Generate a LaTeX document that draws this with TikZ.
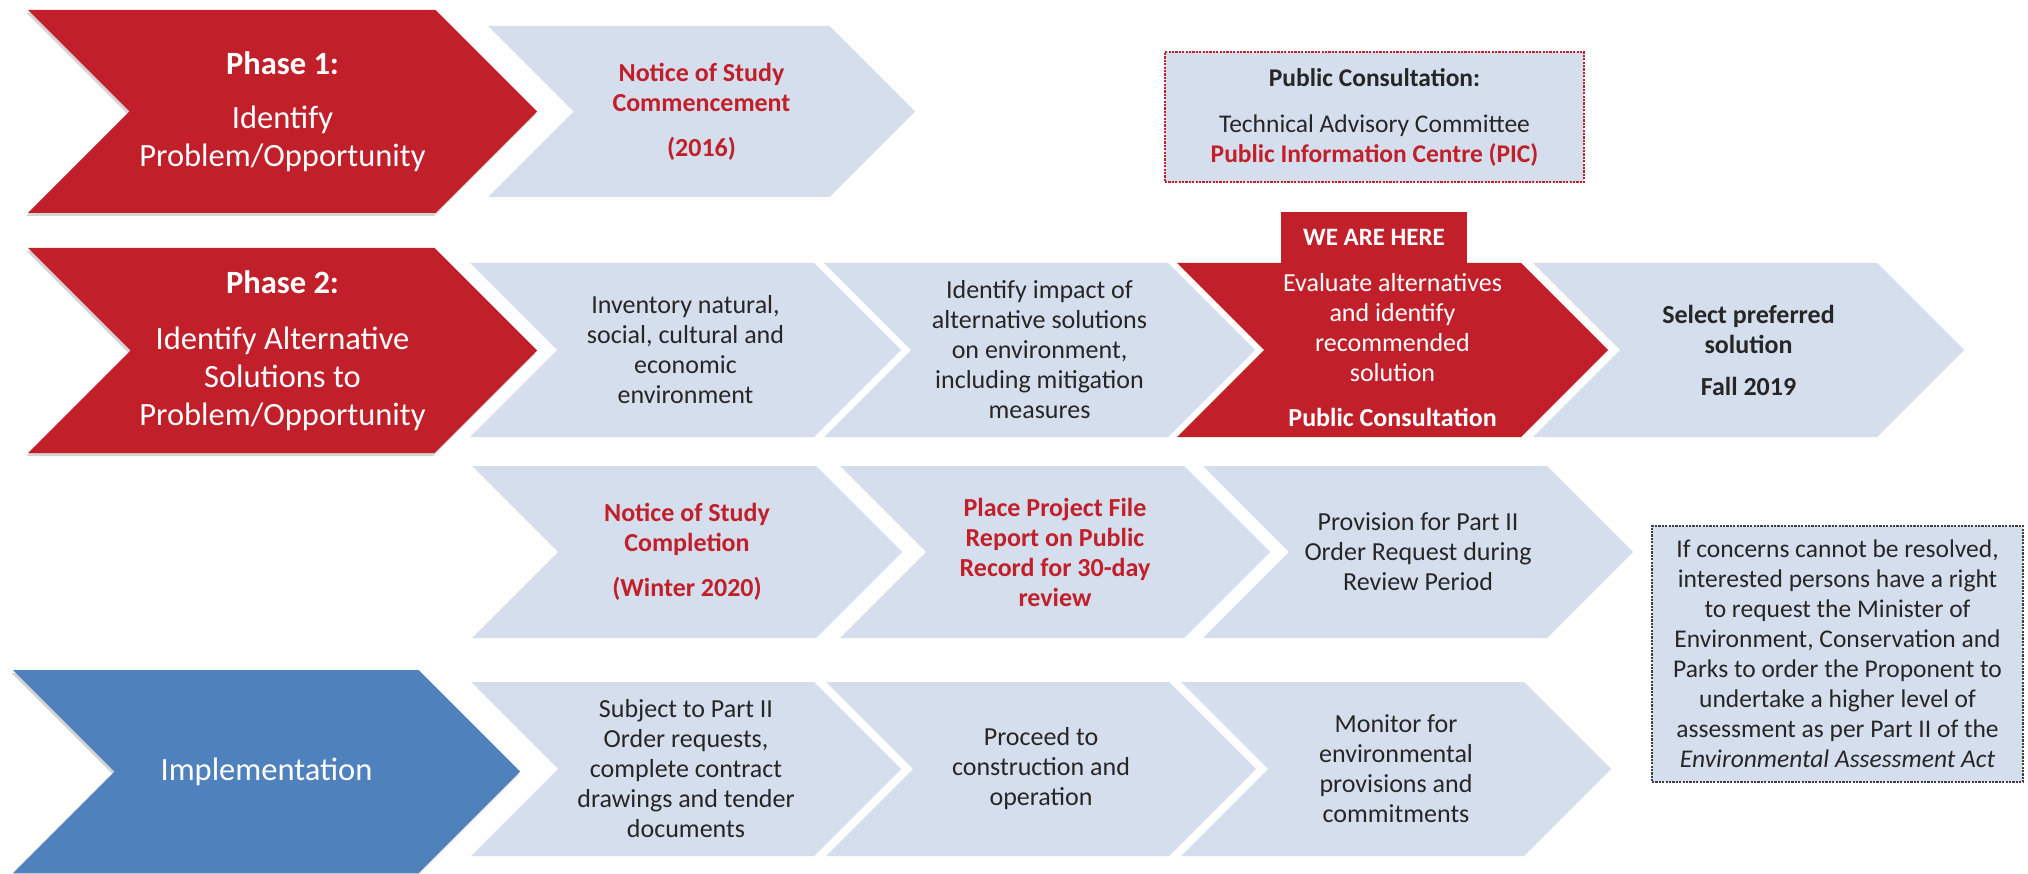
\documentclass[tikz,border=0pt]{standalone}
\usepackage{fontspec}
\setmainfont{Carlito}
\definecolor{cred}{HTML}{C11F2A}
\definecolor{clight}{HTML}{D5DEEC}
\definecolor{cblue}{HTML}{4F81BD}
\definecolor{ctext}{HTML}{262626}
\definecolor{cborder}{HTML}{404040}
\definecolor{cshadow}{HTML}{D4D4D4}
% chevron: #1 name, #2 left x, #3 top y, #4 bottom y, #5 width (left to tip), #6 fill options
\newcommand{\chev}[6]{%
  \pgfmathsetmacro{\chM}{(#3+#4)/2}%
  \pgfmathsetmacro{\chD}{(#4-#3)/2}%
  \pgfmathsetmacro{\chR}{#2+#5}%
  \pgfmathsetmacro{\chS}{#2+#5-\chD}%
  \pgfmathsetmacro{\chN}{#2+\chD}%
  \pgfmathsetmacro{\chC}{#2+#5/2}%
  \fill[#6] (#2,#3) -- (\chS,#3) -- (\chR,\chM) -- (\chS,#4) -- (#2,#4) -- (\chN,\chM) -- cycle;
  \coordinate (#1) at (\chC,\chM);
}
\begin{document}
\begin{tikzpicture}[x=1pt,y=-1pt,
  txt/.style={align=center, text=ctext, font=\fontsize{26}{30}\selectfont, inner sep=0pt},
  rtxt/.style={txt, text=cred, font=\fontsize{26}{30}\selectfont\bfseries},
  wtxt/.style={txt, text=white},
  ptxt/.style={align=center, text=white, font=\fontsize{32.5}{38}\selectfont, inner sep=0pt},
  shadowfill/.style={fill=cshadow, xshift=-1.5pt, yshift=-3pt},
  dbox/.style={fill=clight, dash pattern=on 2.2pt off 1.2pt, line width=1.6pt, inner sep=0pt, align=center, text=ctext, font=\fontsize{25.5}{30}\selectfont},
]
\useasboundingbox (0,0) rectangle (2028,874);
\fill[white] (0,0) rectangle (2028,874);

% ---------- Row 1 ----------
\chev{s1}{28}{10}{213}{509}{shadowfill}
\chev{p1}{28}{10}{213}{509}{fill=cred}
\chev{c11}{488}{26}{197}{427}{fill=clight}
\node[ptxt] (tp1) at (p1) {\textbf{Phase 1:}\\[16pt]Identify\\Problem/Opportunity};
\node[rtxt] (t11) at (c11) {Notice of Study\\Commencement\\[15pt](2016)};

\node[dbox, draw=cred, minimum width=419, minimum height=130] (pc) at (1374.5,117)
  {\textbf{Public Consultation:}\\[16pt]Technical Advisory Committee\\\textcolor{cred}{\textbf{Public Information Centre (PIC)}}};

% ---------- Row 2 ----------
\chev{s2}{28}{248}{453}{509}{shadowfill}
\chev{p2}{28}{248}{453}{509}{fill=cred}
\chev{c21}{470}{263}{437}{431}{fill=clight}
\chev{c22}{824}{263}{437}{431}{fill=clight}
\chev{c23}{1177}{263}{437}{431}{fill=cred}
\chev{c24}{1533}{263}{437}{431}{fill=clight}
\node[ptxt] (tp2) at (p2) {\textbf{Phase 2:}\\[18pt]Identify Alternative\\Solutions to\\Problem/Opportunity};
\node[txt] (t21) at (c21) {Inventory natural,\\social, cultural and\\economic\\environment};
\node[txt] (t22) at (c22) {Identify impact of\\alternative solutions\\on environment,\\including mitigation\\measures};
\node[wtxt] (t23) at (c23) {Evaluate alternatives\\and identify\\recommended\\solution\\[15pt]\textbf{Public Consultation}};
\node[txt] (t24) at (c24) {\textbf{Select preferred}\\\textbf{solution}\\[12pt]\textbf{Fall 2019}};

\node[fill=cred, text=white, font=\fontsize{25}{30}\selectfont\bfseries, minimum width=186, minimum height=51, inner sep=0pt] (here) at (1374,237.5) {WE ARE HERE};

% ---------- Row 3 ----------
\chev{c31}{472}{466}{638}{430}{fill=clight}
\chev{c32}{840}{466}{638}{430}{fill=clight}
\chev{c33}{1203}{466}{638}{430}{fill=clight}
\node[rtxt] (t31) at (c31) {Notice of Study\\Completion\\[15pt](Winter 2020)};
\node[rtxt] (t32) at (c32) {Place Project File\\Report on Public\\Record for 30-day\\review};
\node[txt] (t33) at (c33) {Provision for Part II\\Order Request during\\Review Period};

% ---------- Row 4 ----------
\chev{s4}{13}{670}{873}{507}{shadowfill}
\chev{p4}{13}{670}{873}{507}{fill=cblue}
\chev{c41}{471}{682}{856}{430}{fill=clight}
\chev{c42}{826}{682}{856}{430}{fill=clight}
\chev{c43}{1181}{682}{856}{430}{fill=clight}
\node[ptxt] (tp4) at (p4) {Implementation};
\node[txt] (t41) at (c41) {Subject to Part II\\Order requests,\\complete contract\\drawings and tender\\documents};
\node[txt] (t42) at (c42) {Proceed to\\construction and\\operation};
\node[txt] (t43) at (c43) {Monitor for\\environmental\\provisions and\\commitments};

% ---------- Note box ----------
\node[dbox, draw=cborder, minimum width=371, minimum height=256] (note) at (1837.5,654)
  {If concerns cannot be resolved,\\interested persons have a right\\to request the Minister of\\Environment, Conservation and\\Parks to order the Proponent to\\undertake a higher level of\\assessment as per Part II of the\\\textit{Environmental Assessment Act}};
\end{tikzpicture}
\end{document}
